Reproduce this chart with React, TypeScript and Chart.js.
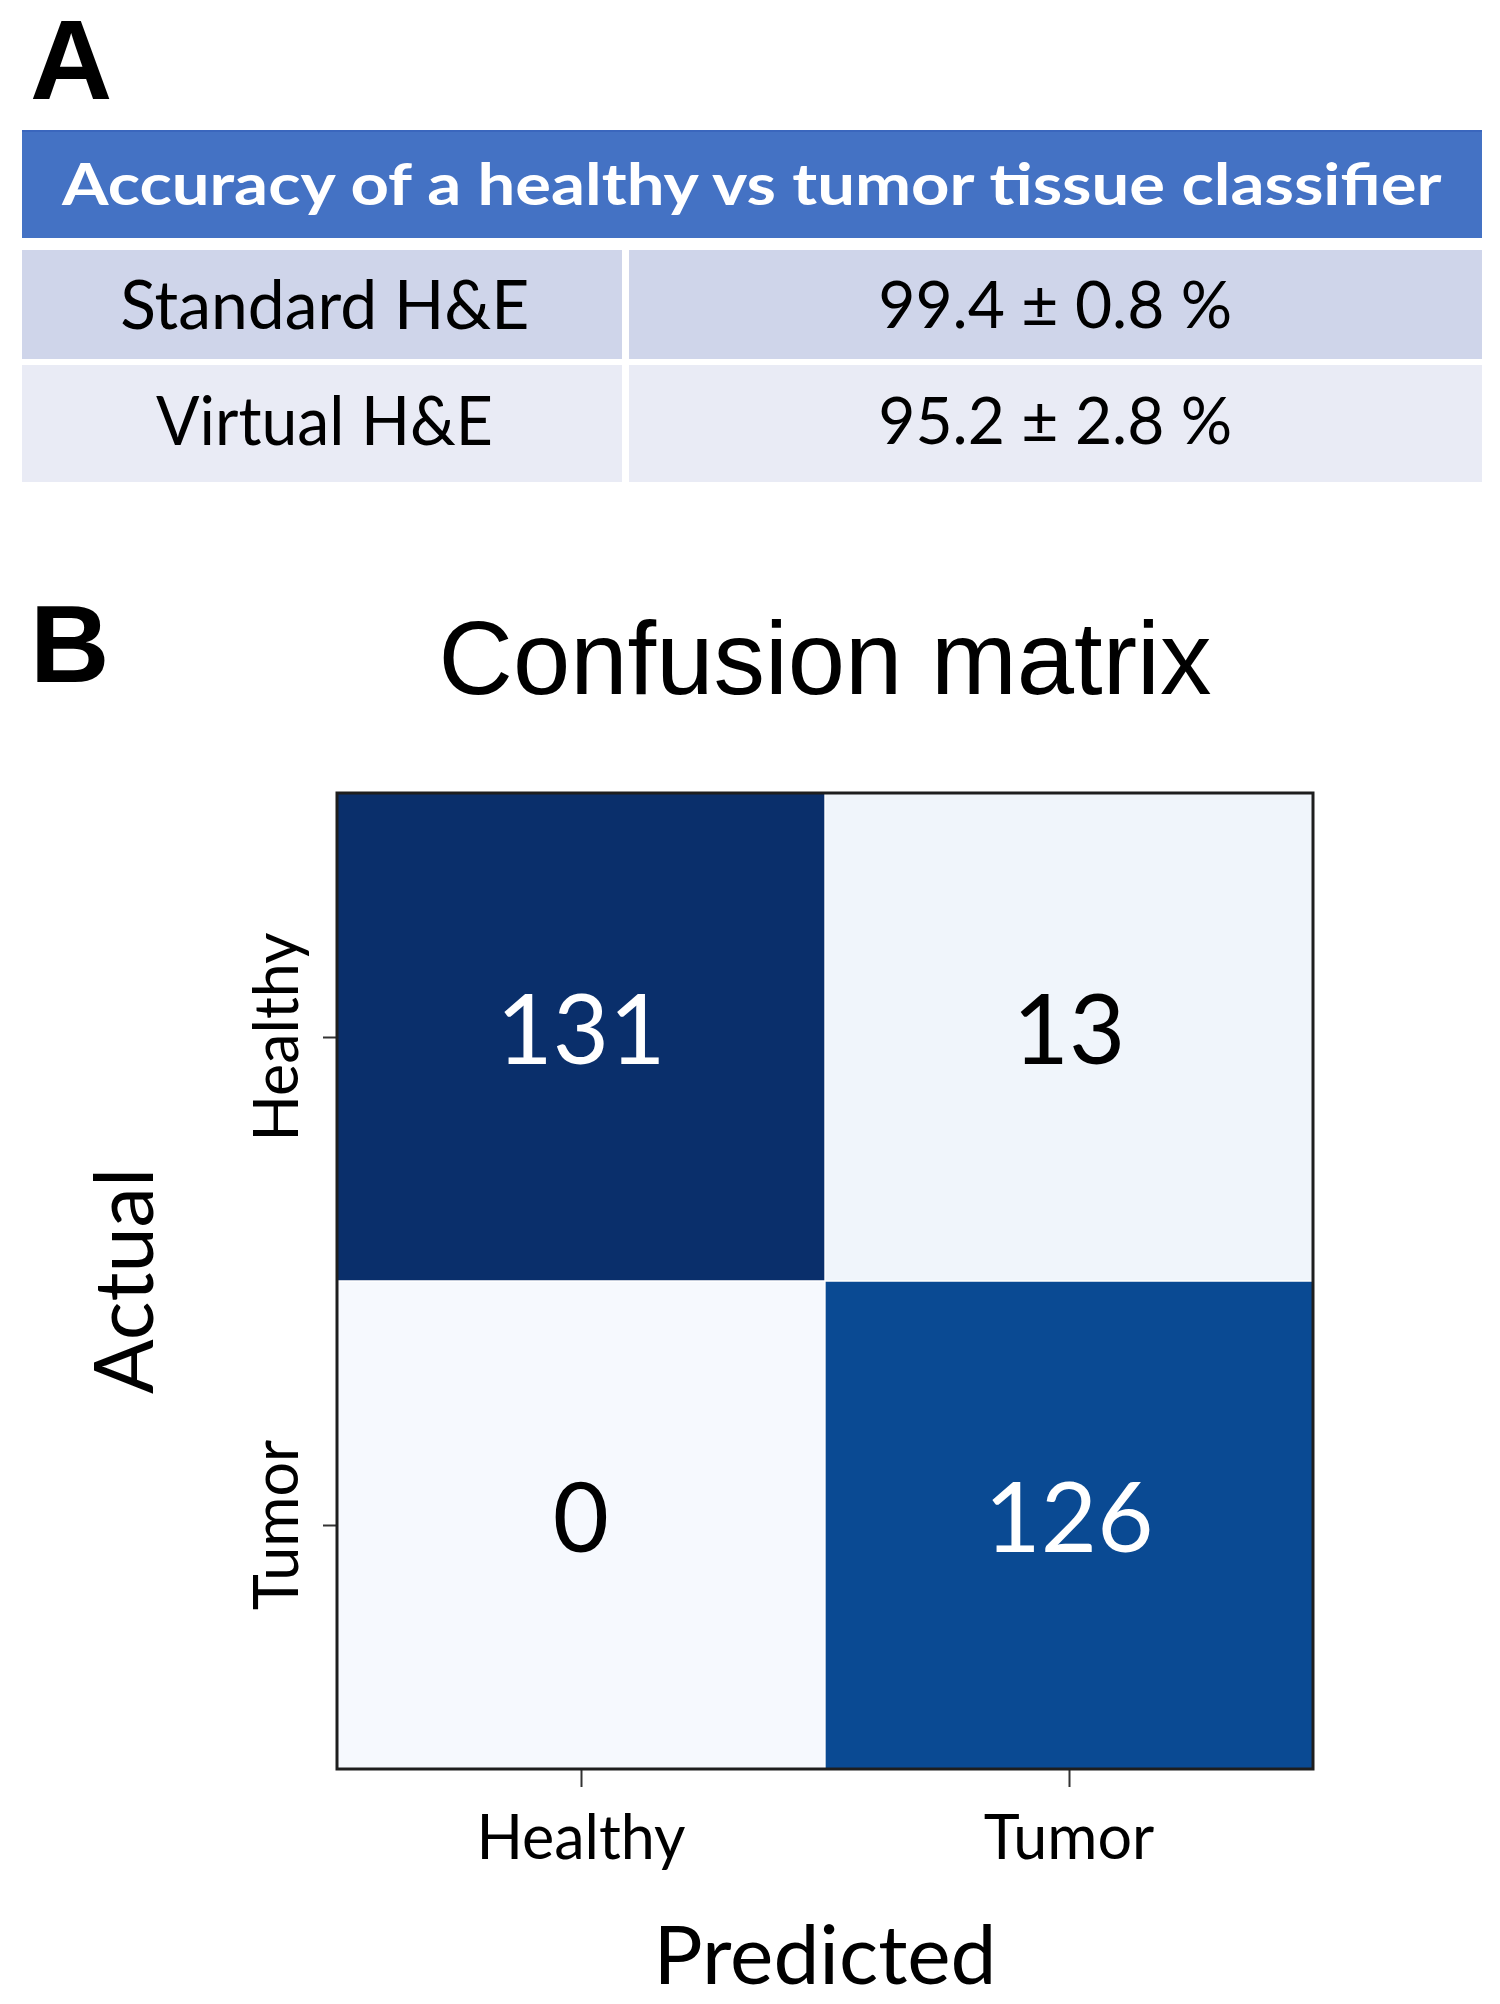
import React, { useEffect, useRef } from "react";
import { Chart, registerables } from "chart.js";

Chart.register(...registerables);

// ---------- Data ----------
const tableTitle = "Accuracy of a healthy vs tumor tissue classifier";
const methods = ["Standard H&E", "Virtual H&E"];
const accuracies = ["99.4 ± 0.8 %", "95.2 ± 2.8 %"];

const predictedLabels = ["Healthy", "Tumor"];
const actualLabels = ["Healthy", "Tumor"];
const healthyRow = [131, 13];
const tumorRow = [0, 126];

// ---------- Styles ----------
const healthyRowColors = ["#0a2f6b", "#f0f5fb"];
const tumorRowColors = ["#f6f9fe", "#0a4a93"];

const measureCtx = (() => {
  try {
    return document.createElement("canvas").getContext("2d");
  } catch (e) {
    return null;
  }
})();

function measure(text: string, font: string): number {
  if (!measureCtx) return 0;
  measureCtx.font = font;
  return measureCtx.measureText(text).width;
}

type LabelProps = {
  text: string;
  cx: number;
  baseline: number;
  size: number;
  weight?: number;
  family?: string;
  color?: string;
  targetWidth?: number;
  ascentRatio?: number;
};

function Label({ text, cx, baseline, size, weight = 400, family = "Lato", color = "#000", targetWidth, ascentRatio = 0.887 }: LabelProps) {
  let scale = 1;
  if (targetWidth) {
    const w = measure(text, `${weight} ${size}px ${family}`);
    if (w > 0) scale = targetWidth / w;
  }
  return (
    <div
      style={{
        position: "absolute",
        left: cx - 1000,
        width: 2000,
        top: baseline - ascentRatio * size,
        textAlign: "center",
        fontFamily: family,
        fontSize: size,
        fontWeight: weight,
        lineHeight: `${size}px`,
        color,
        whiteSpace: "nowrap",
      }}
    >
      <span style={{ display: "inline-block", transform: `scaleX(${scale})`, transformOrigin: "center" }}>{text}</span>
    </div>
  );
}

const CANVAS_TOP = 560;
const CANVAS_W = 1500;
const CANVAS_H = 1444;

const valueTextPlugin = {
  id: "valueText",
  afterDatasetsDraw(chart: any) {
    const ctx = chart.ctx;
    ctx.save();
    chart.data.datasets.forEach((ds: any, di: number) => {
      const meta = chart.getDatasetMeta(di);
      meta.data.forEach((bar: any, i: number) => {
        const v = ds.values[i];
        const cy = (bar.y + bar.base) / 2;
        ctx.fillStyle = v > 65 ? "#ffffff" : "#000000";
        ctx.font = "400 97px Lato";
        ctx.textAlign = "center";
        ctx.textBaseline = "alphabetic";
        ctx.fillText(String(v), bar.x, cy + 27);
      });
    });
    const a = chart.chartArea;
    ctx.strokeStyle = "#1e1e1e";
    ctx.lineWidth = 3;
    ctx.strokeRect(a.left, a.top, a.right - a.left, a.bottom - a.top);
    ctx.restore();
  },
  afterDraw(chart: any) {
    const ctx = chart.ctx;
    const y = chart.scales.y;
    ctx.save();
    ctx.fillStyle = "#000";
    ctx.font = "400 61px Lato";
    ctx.textAlign = "center";
    ctx.textBaseline = "alphabetic";
    y.ticks.forEach((t: any) => {
      const py = y.getPixelForValue(t.value);
      const label = actualLabels[actualLabels.length - 1 - Math.floor(t.value)];
      ctx.save();
      ctx.translate(298, py);
      ctx.rotate(-Math.PI / 2);
      ctx.fillText(label, 0, 0);
      ctx.restore();
    });
    ctx.restore();
  },
};

function ConfusionChart() {
  const ref = useRef<HTMLCanvasElement | null>(null);
  useEffect(() => {
    if (!ref.current) return;
    const chart = new Chart(ref.current, {
      type: "bar",
      data: {
        labels: predictedLabels,
        datasets: [
          {
            label: actualLabels[1],
            data: tumorRow.map(() => 1),
            values: tumorRow,
            backgroundColor: tumorRowColors,
            borderColor: "rgba(255,255,255,0.85)",
            borderWidth: 1,
            borderSkipped: false,
            barPercentage: 1,
            categoryPercentage: 1,
          } as any,
          {
            label: actualLabels[0],
            data: healthyRow.map(() => 1),
            values: healthyRow,
            backgroundColor: healthyRowColors,
            borderColor: "rgba(255,255,255,0.85)",
            borderWidth: 1,
            borderSkipped: false,
            barPercentage: 1,
            categoryPercentage: 1,
          } as any,
        ],
      },
      options: {
        responsive: false,
        animation: false,
        devicePixelRatio: 1,
        layout: { padding: { left: 0, right: CANVAS_W - 1313, top: 0, bottom: 0 } },
        plugins: {
          legend: { display: false },
          tooltip: { enabled: false },
          title: {
            display: true,
            text: "Confusion matrix",
            fullSize: false,
            color: "#000",
            font: { family: "'Liberation Sans', Arial", size: 103, weight: "normal", lineHeight: 1.2 },
            padding: { top: 43.5, bottom: 65.9 },
          },
        },
        scales: {
          x: {
            type: "category",
            stacked: true,
            offset: true,
            afterFit: (s: any) => {
              s.height = CANVAS_H - 1209;
            },
            grid: {
              display: true,
              drawOnChartArea: false,
              drawTicks: true,
              tickLength: 18,
              offset: false,
              color: "#333",
              tickWidth: 2,
            },
            border: { display: false },
            ticks: {
              color: "#000",
              padding: 16,
              maxRotation: 0,
              font: { family: "Lato", size: 61, lineHeight: 1.2 },
            },
            title: {
              display: true,
              text: "Predicted",
              color: "#000",
              font: { family: "Lato", size: 82, lineHeight: 1.1 },
              padding: { top: 0, bottom: 1 },
            },
          },
          y: {
            type: "linear",
            stacked: true,
            min: 0,
            max: 2,
            afterFit: (s: any) => {
              s.width = 337;
            },
            afterBuildTicks: (s: any) => {
              s.ticks = [{ value: 0.5 }, { value: 1.5 }];
            },
            grid: {
              display: true,
              drawOnChartArea: false,
              drawTicks: true,
              tickLength: 14,
              color: "#333",
              tickWidth: 2,
            },
            border: { display: false },
            ticks: { display: false },
            title: {
              display: true,
              text: "Actual",
              color: "#000",
              font: { family: "Lato", size: 81, lineHeight: 1.2 },
              padding: { top: 78, bottom: 0 },
            },
          },
        },
      } as any,
      plugins: [valueTextPlugin],
    });
    return () => chart.destroy();
  }, []);
  return <canvas ref={ref} width={CANVAS_W} height={CANVAS_H} style={{ display: "block", width: CANVAS_W, height: CANVAS_H }} />;
}

export default function App() {
  const tableLeft = 22;
  const tableRight = 1482;
  const colSplitL = 622;
  const colSplitR = 629;
  const rows = [
    { top: 250, height: 109, bg: "#cfd5ea", baseline: 329 },
    { top: 365, height: 117, bg: "#e9ebf5", baseline: 445 },
  ];
  const methodWidths = [409, 337];
  const accWidths = [354, 354];
  return (
    <div style={{ position: "absolute", left: 0, top: 0, width: 1500, height: 2004, background: "#fff", overflow: "hidden" }}>
      {/* Panel letters */}
      <div
        style={{
          position: "absolute",
          left: 30,
          top: 100 - 0.8465 * 114,
          fontFamily: "'Liberation Sans', Arial",
          fontWeight: 700,
          fontSize: 114,
          lineHeight: "114px",
          color: "#000",
        }}
      >
        A
      </div>
      <div
        style={{
          position: "absolute",
          left: 30,
          top: 682 - 0.8465 * 110,
          fontFamily: "'Liberation Sans', Arial",
          fontWeight: 700,
          fontSize: 110,
          lineHeight: "110px",
          color: "#000",
        }}
      >
        B
      </div>

      {/* Table */}
      <div style={{ position: "absolute", left: tableLeft, top: 130, width: tableRight - tableLeft, height: 108, background: "#4472c4", borderTop: "2px solid #3a66bd", boxSizing: "border-box" }} />
      <Label text={tableTitle} cx={752} baseline={205} size={58} weight={700} color="#fff" targetWidth={1387} />
      {rows.map((r, i) => (
        <React.Fragment key={i}>
          <div style={{ position: "absolute", left: tableLeft, top: r.top, width: colSplitL - tableLeft, height: r.height, background: r.bg }} />
          <div style={{ position: "absolute", left: colSplitR, top: r.top, width: tableRight - colSplitR, height: r.height, background: r.bg }} />
          <Label text={methods[i]} cx={(tableLeft + colSplitL) / 2 + 3} baseline={r.baseline} size={67} targetWidth={methodWidths[i]} />
          <Label text={accuracies[i]} cx={(colSplitR + tableRight) / 2} baseline={r.baseline} size={66} targetWidth={accWidths[i]} />
        </React.Fragment>
      ))}

      {/* Confusion matrix */}
      <div style={{ position: "absolute", left: 0, top: CANVAS_TOP, width: CANVAS_W, height: CANVAS_H }}>
        <ConfusionChart />
      </div>
    </div>
  );
}
